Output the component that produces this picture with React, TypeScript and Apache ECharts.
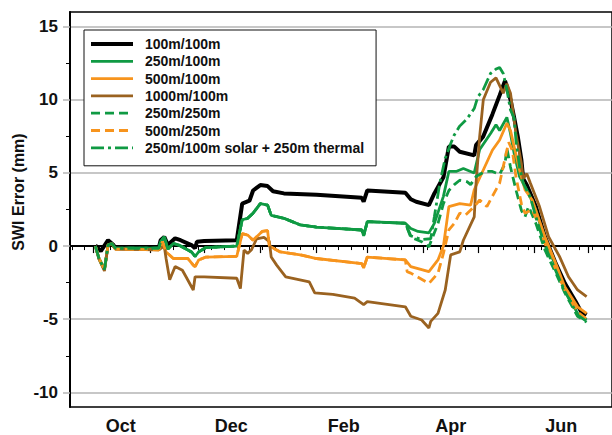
import React, { useEffect, useRef } from "react";
import * as echarts from "echarts";

const FONT = "'Liberation Sans', Arial, Helvetica, sans-serif";

// x axis: daily categories, Sep 18 2010 .. Jul 14 2011
const START_UTC = Date.UTC(2010, 8, 18);
const N_DAYS = 300;
const OCT1_INDEX = 13;
const categories: string[] = Array.from({ length: N_DAYS }, (_, i) =>
  new Date(START_UTC + i * 86400000).toISOString().slice(0, 10)
);
const MONTH_NAMES = ["Jan", "Feb", "Mar", "Apr", "May", "Jun", "Jul", "Aug", "Sep", "Oct", "Nov", "Dec"];
const LABELLED_MONTHS = ["Oct", "Dec", "Feb", "Apr", "Jun"];

// y axis
const Y_MIN = -11;
const Y_MAX = 16;
const Y_MAJOR = [-10, -5, 0, 5, 10, 15];
const Y_MINOR = [-7.5, -2.5, 2.5, 7.5, 12.5];
const Y_TITLE = "SWI Error (mm)";

// series values: [days since Oct 1, SWI error mm]
const black100_100: [number, number][] = [
  [1, 0.05], [4, -0.35], [8, 0.4], [11, 0.07], [12, -0.12], [36, -0.12], [37, 0.4], [39, 0.63], [41, 0.07],
  [45, 0.53], [48, 0.4], [54, 0.07], [56, -0.15], [57, 0.3], [61, 0.34], [79, 0.4], [82, 2.9], [86, 3.1],
  [88, 3.8], [92, 4.17], [96, 4.1], [99, 3.75], [105, 3.6], [123, 3.5], [148, 3.3], [149, 3.04], [151, 3.8],
  [172, 3.65], [175, 3.2], [178, 3.03], [185, 2.8], [188, 3.6], [193, 4.7], [195, 6.1], [196, 6.8], [199, 6.8],
  [202, 6.45], [210, 6.2], [211, 6.9], [215, 7.5], [220, 9.0], [224, 10.3], [227, 11.3], [228, 10.9], [230, 10.0],
  [232, 8.8], [234, 7.5], [236, 5.9], [237, 4.6], [239, 4.17], [244, 2.7], [249, 0.64], [255, -1.2], [260, -2.55],
  [266, -3.8], [269, -4.5], [272, -4.7],
];

const green250Base: [number, number][] = [
  [1, 0], [3, -0.85], [6, -1.6], [8, 0.07], [10, 0.18], [12, -0.15], [36, -0.15], [37, 0.3], [39, 0.63],
  [41, -0.2], [44, 0.18], [47, 0.07], [54, -0.4], [56, -0.7], [58, -0.4], [62, -0.1], [79, 0], [82, 1.8],
  [85, 1.9], [88, 2.25], [92, 2.9], [96, 2.8], [98, 2.1], [105, 1.9], [114, 1.45], [123, 1.3], [148, 1.1],
  [149, 0.7], [151, 1.67], [172, 1.56],
];
const green250_100Tail: [number, number][] = [
  [175, 1.2], [179, 1.0], [185, 0.9], [188, 1.55], [193, 3.4], [196, 5.1], [200, 5.1], [204, 5.3], [208, 5.1],
  [210, 5.0], [213, 6.6], [219, 7.7], [222, 8.3], [224, 7.9], [228, 8.8], [230, 7.7], [232, 6.35], [235, 4.75],
  [237, 4.3], [240, 3.6], [244, 2.45], [249, 0.4], [255, -1.4], [260, -3.0], [267, -4.6], [272, -5.05],
];
const green250_250Tail: [number, number][] = [
  [175, 0.6], [181, 0.3], [185, -0.05], [190, 1.55], [193, 2.9], [196, 3.8], [199, 4.2], [202, 4.5], [206, 4.4],
  [208, 4.2], [211, 4.75], [216, 5.1], [220, 5.1], [224, 4.9], [227, 5.65], [228, 6.7], [230, 5.4], [233, 3.85],
  [236, 2.45], [238, 2.0], [240, 2.7], [244, 1.55], [249, -0.27], [255, -1.85], [260, -3.2], [267, -4.8], [272, -5.2],
];
const greenSolarThermalTail: [number, number][] = [
  [175, 0.7], [181, 0.45], [186, 0.5], [188, 2.0], [191, 4.3], [194, 6.0], [197, 7.0], [199, 7.6], [202, 8.2],
  [206, 8.7], [210, 9.4], [212, 10.2], [215, 10.7], [219, 11.8], [222, 12.1], [224, 12.2], [226, 11.8], [228, 10.7],
  [230, 9.3], [232, 8.75], [233, 7.25], [235, 5.4], [237, 4.3], [238, 4.05], [241, 3.3], [244, 2.0], [249, 0.0],
  [255, -1.7], [260, -3.1], [267, -4.7], [272, -5.15],
];

const orange500Base: [number, number][] = [
  [1, 0], [3, -0.85], [6, -1.6], [8, 0.07], [10, 0.18], [12, -0.2], [36, -0.25], [38, 0.3], [40, -0.4],
  [44, -0.85], [52, -0.85], [55, -1.3], [56, -1.4], [58, -0.95], [62, -0.75], [79, -0.7], [82, 0.85], [85, 0.75],
  [88, 0.4], [93, 1.0], [96, 1.05], [97, 0.0], [103, -0.4], [114, -0.6], [123, -0.85], [148, -1.2], [149, -1.5],
  [151, -0.75], [172, -0.95],
];
const orange500_100Tail: [number, number][] = [
  [175, -1.4], [185, -1.75], [190, -0.95], [193, 0], [196, 2.7], [202, 2.9], [208, 2.8], [210, 3.85], [215, 5.2],
  [220, 6.55], [224, 7.25], [228, 8.4], [230, 7.9], [232, 6.8], [235, 5.2], [238, 3.85], [242, 3.15], [249, 0.64],
  [255, -1.2], [260, -2.8], [267, -4.15], [272, -4.6],
];
const orange500_250Tail: [number, number][] = [
  [173, -1.75], [175, -1.85], [185, -2.55], [190, -1.85], [193, -0.5], [196, 1.1], [199, 1.55], [202, 2.25],
  [205, 2.1], [210, 2.7], [213, 3.15], [217, 2.7], [220, 3.4], [224, 4.3], [228, 6.55], [229, 7.1], [231, 6.55],
  [233, 4.75], [236, 2.9], [238, 2.25], [242, 2.5], [246, 1.35], [249, 0.2], [255, -1.6], [260, -3.0], [267, -4.5],
  [272, -5.0],
];

const brown1000_100: [number, number][] = [
  [1, 0], [3, -0.9], [6, -1.7], [8, 0.07], [10, 0.18], [12, -0.2], [36, -0.25], [39, 0], [40, -0.85], [42, -2.3],
  [45, -1.4], [49, -1.65], [51, -2.1], [55, -3.0], [56, -2.1], [61, -2.1], [79, -2.2], [81, -2.9], [83, -0.27],
  [85, -0.5], [87, -0.27], [90, 0.5], [94, 0.6], [97, 0.3], [98, -0.75], [101, -1.3], [106, -2.1], [119, -2.45],
  [122, -3.2], [132, -3.3], [144, -3.55], [149, -4.0], [151, -3.8], [172, -4.15], [175, -4.8], [181, -5.05],
  [185, -5.6], [186, -5.15], [190, -4.6], [194, -3.0], [197, -0.6], [202, -0.4], [204, 0.4], [210, 2.0], [211, 4.3],
  [213, 7.5], [215, 10.0], [219, 11.2], [222, 11.5], [226, 10.45], [228, 11.1], [230, 10.45], [233, 7.7],
  [236, 5.65], [237, 4.6], [239, 4.95], [241, 4.3], [246, 2.7], [251, 0.64], [257, -0.7], [262, -2.1], [267, -3.0],
  [272, -3.45],
];

const BLACK = "#000000";
const GREEN = "#0f9a43";
const ORANGE = "#f7941d";
const BROWN = "#9a6220";

const SERIES_DEFS = [
  { name: "100m/100m", color: BLACK, width: 4, type: "solid" as any, values: black100_100 },
  { name: "250m/100m", color: GREEN, width: 2.8, type: "solid" as any, values: [...green250Base, ...green250_100Tail] },
  { name: "500m/100m", color: ORANGE, width: 2.8, type: "solid" as any, values: [...orange500Base, ...orange500_100Tail] },
  { name: "1000m/100m", color: BROWN, width: 2.8, type: "solid" as any, values: brown1000_100 },
  { name: "250m/250m", color: GREEN, width: 2.8, type: [9, 5] as any, values: [...green250Base, ...green250_250Tail] },
  { name: "500m/250m", color: ORANGE, width: 2.8, type: [9, 5] as any, values: [...orange500Base, ...orange500_250Tail] },
  { name: "250m/100m solar + 250m thermal", color: GREEN, width: 2.8, type: [13, 4, 3, 4] as any, values: [...green250Base, ...greenSolarThermalTail] },
];

function dateParts(v: string) {
  const d = new Date(v + "T00:00:00Z");
  return { day: d.getUTCDate(), month: d.getUTCMonth(), dow: d.getUTCDay() };
}

export default function App() {
  const ref = useRef<HTMLDivElement>(null);
  useEffect(() => {
    if (!ref.current) return;
    const chart = echarts.init(ref.current, null, { renderer: "svg" });
    const axisBase = {
      type: "category" as const,
      data: categories,
      boundaryGap: false,
      position: "bottom" as const,
      splitLine: { show: false },
    };
    chart.setOption({
      animation: false,
      backgroundColor: "#ffffff",
      textStyle: { fontFamily: FONT },
      grid: {
        left: 70,
        top: 12,
        right: -9,
        bottom: 28,
        show: true,
        borderColor: "#000",
        borderWidth: 1.5,
        backgroundColor: "transparent",
      },
      legend: {
        orient: "vertical",
        left: 84,
        top: 30,
        padding: [7, 12, 11, 5],
        itemWidth: 42,
        itemHeight: 10,
        itemGap: 3.3,
        backgroundColor: "#fff",
        borderColor: "#111",
        borderWidth: 1,
        itemStyle: { opacity: 0 },
        textStyle: {
          fontFamily: FONT,
          fontWeight: "bold",
          fontSize: 14,
          lineHeight: 14,
          color: "#111",
          padding: [0, 0, 0, 7],
        },
        data: SERIES_DEFS.map((s) => ({
          name: s.name,
          itemStyle: { opacity: 0 },
          lineStyle: { color: s.color, width: s.width, type: s.type },
        })),
      },
      graphic: [
        {
          type: "text",
          x: 18,
          y: 192,
          rotation: Math.PI / 2,
          style: {
            text: Y_TITLE,
            textAlign: "center",
            textVerticalAlign: "middle",
            fontFamily: FONT,
            fontWeight: "bold",
            fontSize: 16,
            fill: "#111",
          },
        },
      ],
      xAxis: [
        {
          ...axisBase,
          axisLine: { show: true, lineStyle: { color: "#000", width: 2 } },
          axisTick: {
            show: true,
            length: 4,
            lineStyle: { color: "#000", width: 1 },
            interval: (_i: number, v: string) => dateParts(v).dow === 0,
          },
          axisLabel: {
            show: true,
            margin: 10,
            fontFamily: FONT,
            fontWeight: "bold",
            fontSize: 18,
            color: "#111",
            interval: (_i: number, v: string) => {
              const p = dateParts(v);
              return p.day === 16 && LABELLED_MONTHS.includes(MONTH_NAMES[p.month]);
            },
            formatter: (v: string) => MONTH_NAMES[dateParts(v).month],
          },
        },
        {
          ...axisBase,
          axisLine: { show: false },
          axisTick: {
            show: true,
            length: 7,
            lineStyle: { color: "#000", width: 1.2 },
            interval: (_i: number, v: string) => dateParts(v).day === 1,
          },
          axisLabel: { show: false },
        },
      ],
      yAxis: [
        {
          type: "value",
          min: Y_MIN,
          max: Y_MAX,
          position: "left",
          axisLine: { show: true, lineStyle: { color: "#000", width: 2 } },
          axisTick: {
            show: true,
            length: 7,
            customValues: Y_MAJOR,
            lineStyle: { color: "#b5b5b5", width: 1.5 },
          },
          axisLabel: {
            show: true,
            customValues: Y_MAJOR,
            margin: 12,
            fontFamily: FONT,
            fontWeight: "bold",
            fontSize: 17,
            color: "#111",
          },
          splitLine: { show: true, lineStyle: { color: "#b5b5b5", width: 1.5 } },
        },
        {
          type: "value",
          min: Y_MIN,
          max: Y_MAX,
          position: "left",
          axisLine: { show: false },
          axisTick: {
            show: true,
            length: 4,
            customValues: Y_MINOR,
            lineStyle: { color: "#000", width: 1 },
          },
          axisLabel: { show: false },
          splitLine: { show: false },
        },
      ],
      series: SERIES_DEFS.map((s) => ({
        name: s.name,
        type: "line",
        xAxisIndex: 0,
        yAxisIndex: 0,
        showSymbol: false,
        symbol: "none",
        lineStyle: { color: s.color, width: s.width, type: s.type },
        itemStyle: { color: s.color },
        data: s.values.map(([d, v]) => [categories[d + OCT1_INDEX], v]),
      })),
    });
    return () => chart.dispose();
  }, []);
  return (
    <div style={{ position: "absolute", left: 0, top: 0, width: 612, height: 435, overflow: "hidden", background: "#fff" }}>
      <div ref={ref} style={{ width: 612, height: 435 }} />
    </div>
  );
}
